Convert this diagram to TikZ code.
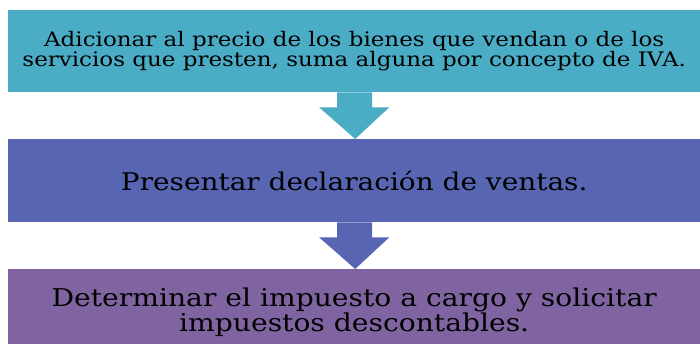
\documentclass[tikz,border=0pt]{standalone}
\usepackage{fontspec}
\setmainfont[FakeStretch=1.15]{DejaVu Serif}
\usetikzlibrary{calc}
\definecolor{cteal}{HTML}{4BACC6}
\definecolor{cblue}{HTML}{5865B2}
\definecolor{cpurple}{HTML}{8064A2}
\begin{document}
\begin{tikzpicture}[x=1pt,y=-1pt,
  stepbox/.style={minimum width=692pt,inner sep=0pt,align=center,text=black,anchor=north west}]
\useasboundingbox (0,0) rectangle (700,343);
\begin{scope}
\clip (0,0) rectangle (700,343);
\node[stepbox,fill=cteal,minimum height=82pt,font=\fontsize{20}{20}\selectfont] (top) at (8,10)
  {Adicionar al precio de los bienes que vendan o de los\\servicios que presten, suma alguna por concepto de IVA.};
\node[stepbox,fill=cblue,minimum height=83pt,font=\fontsize{24.3}{26}\selectfont,text height=24pt,text depth=5pt] (mid) at (8,139)
  {Presentar declaración de ventas.};
\node[stepbox,fill=cpurple,minimum height=86pt,font=\fontsize{24.5}{25}\selectfont] (bot) at (8,269)
  {Determinar el impuesto a cargo y solicitar\\impuestos descontables.};
\end{scope}
\fill[cteal] ($(top.south)+(-17,0)$) -- ($(top.south)+(18,0)$) -- ($(top.south)+(18,15)$) -- ($(top.south)+(35,15)$)
  -- ($(mid.north)+(1,0)$) -- ($(top.south)+(-35,15)$) -- ($(top.south)+(-17,15)$) -- cycle;
\fill[cblue] ($(mid.south)+(-17,0)$) -- ($(mid.south)+(18,0)$) -- ($(mid.south)+(18,15)$) -- ($(mid.south)+(35,15)$)
  -- ($(bot.north)+(1,0)$) -- ($(mid.south)+(-35,15)$) -- ($(mid.south)+(-17,15)$) -- cycle;
\end{tikzpicture}
\end{document}
